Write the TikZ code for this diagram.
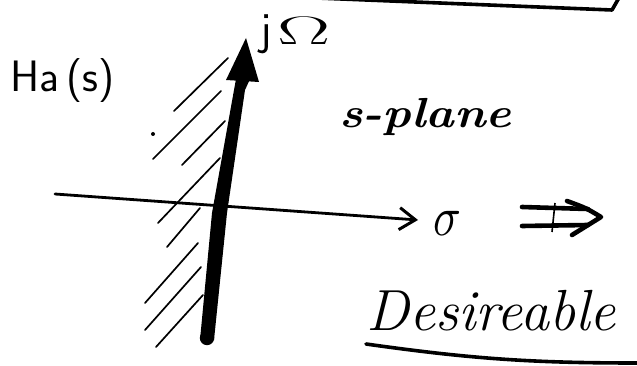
\documentclass[tikz,border=0pt]{standalone}
\usepackage{fontspec}
\usepackage{amsmath,amssymb}
\usetikzlibrary{arrows.meta}

\tikzset{
  hatch/.style={line width=1.7pt,line cap=round},
  ink/.style={line width=3.2pt,line cap=round,line join=round},
  hand/.style={inner sep=0pt,anchor=base west},
}

\begin{document}
\begin{tikzpicture}[x=1pt,y=-1pt]
\useasboundingbox (0,0) rectangle (637,366);

% ---- lower edge of the box above ----
\coordinate (boxl) at (317,-2);
\coordinate (boxc) at (612,10);
\coordinate (boxr) at (620,-4);
\draw[ink,line width=3.6pt] (boxl) -- (boxc) -- (boxr);

% ---- labels ----
\node[hand,font=\sffamily\fontsize{44}{50}\selectfont] (ha) at (10,92) {Ha\,(s)};
\node[hand,font=\sffamily\fontsize{46}{50}\selectfont] (jw) at (260,45)
  {j\hspace{0.12em}\scalebox{3.2}[1.6]{$\Omega$}};
\node[hand,font=\itshape\bfseries\fontsize{42}{44}\selectfont] (splane) at (339,128)
  {\scalebox{1.15}[1]{s-plane}};
\node[hand] (sigma) at (433,236) {\scalebox{4.6}[5.6]{$\sigma$}};
\node[hand,font=\itshape\fontsize{58}{60}\selectfont] (desire) at (366,330) {Desireable};

% ---- hatching: left half plane ----
\foreach \xa/\ya/\xb/\yb in {228/58/174/111, 221/91/153/159, 225/121/182/165,
    220/158/158/223, 200/208/167/247, 198/243/145/303, 201/267/145/330,
    203/295/156/347}{
  \draw[hatch] (\xa,\ya) -- (\xb,\yb);}
\fill (153,134) circle (2pt);

% ---- sigma axis ----
\coordinate (xl) at (55,194);
\coordinate (xr) at (418,220);
\draw[line width=2.8pt,line cap=round,
  -{Straight Barb[length=16pt,width=22pt,line width=3pt]}] (xl) -- (xr);

% ---- j Omega axis: heavy, tapered ----
\coordinate (yb) at (207,338);
\coordinate (yt) at (246,38);
\fill (200,340) -- (212,213) -- (234,90) -- (236,79) -- (250,79) -- (245,90)
  -- (227,213) -- (214,340) -- cycle;
\fill (yb) circle (7.2pt);
\fill (226,80) -- (yt) -- (259,82) -- cycle;

% ---- implies ----
\coordinate (il) at (522,216);
\coordinate (ir) at (601,217);
\draw[ink,line width=4.6pt] (522,207) -- (588,209);
\draw[ink,line width=4.6pt] (522,226) -- (588,225);
\draw[ink,line width=4.6pt] (567,201) .. controls (586,208) .. (ir)
  .. controls (587,226) .. (572,235);
\draw[line width=1.6pt] (555,203) -- (552,232);

% ---- underline ----
\coordinate (ul) at (366,344);
\coordinate (ur) at (637,363);
\draw[ink,line width=3.6pt] (ul) to[bend right=4] (ur);

\end{tikzpicture}
\end{document}
